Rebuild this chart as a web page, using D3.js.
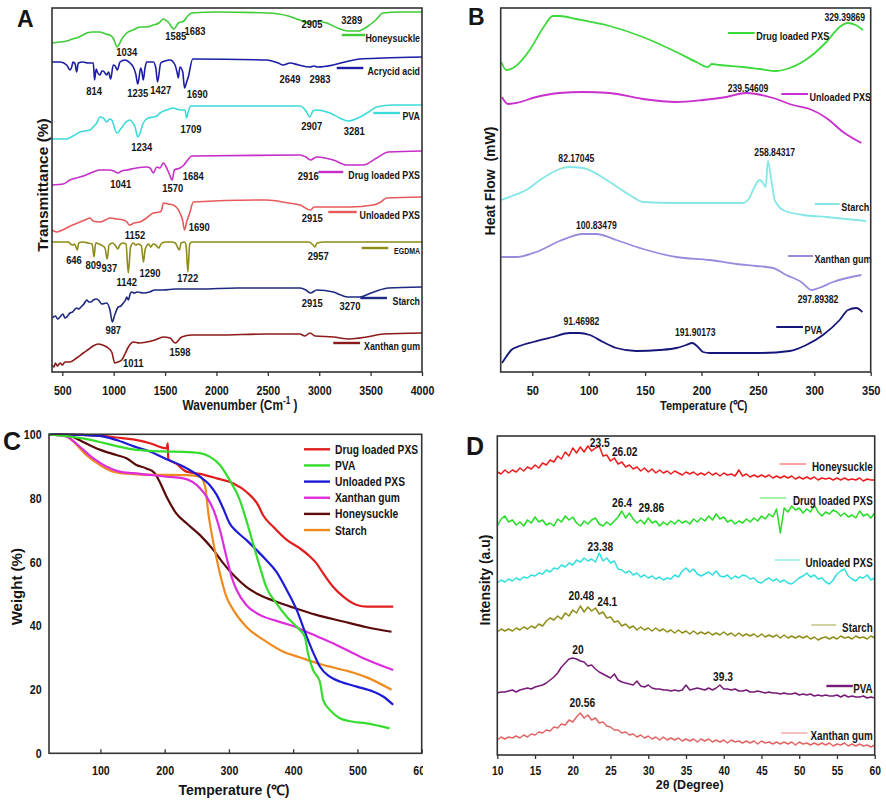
<!DOCTYPE html>
<html><head><meta charset="utf-8">
<script src="https://cdn.jsdelivr.net/npm/d3@7"></script>
<style>body{margin:0;background:#fff}svg{display:block}</style>
</head><body>
<script>
// ---------------- Panel A : FTIR (wavenumber, transmittance a.u. stacked) ----------------
const ftirTicks=[500,1000,1500,2000,2500,3000,3500,4000];
const ftirHoneysuckle=[[400,329],[470,330],[543,331],[600,333],[640,334],[700,337],[738,339],[800,340],[867,340],[920,338],[964,337],[1000,333],[1034,325],[1060,329],[1080,333],[1127,339],[1190,342],[1256,345],[1320,345],[1386,347],[1440,349],[1483,353],[1530,350],[1585,343],[1630,349],[1683,351],[1720,356],[1759,359],[2000,360],[2492,359],[2700,356],[2813,352],[2905,349],[2950,351],[3073,349],[3180,344],[3289,341],[3380,341],[3462,345],[3550,352],[3621,359],[3786,360],[4000,360]];
const ftirAcrylic=[[400,310],[480,310],[543,307],[575,302],[592,305],[604,310],[625,308],[640,300],[656,309],[700,310],[750,309],[802,309],[814,292],[830,303],[841,300],[867,297],[885,301],[899,301],[915,299],[932,297],[950,300],[971,293],[996,307],[1015,306],[1035,302],[1062,310],[1110,312],[1159,309],[1191,305],[1215,298],[1235,288],[1263,304],[1275,300],[1288,292],[1305,304],[1321,310],[1386,310],[1410,304],[1427,290],[1458,309],[1500,311],[1548,312],[1597,307],[1620,298],[1629,294],[1645,305],[1672,300],[1690,284],[1710,290],[1726,295],[1769,313],[2489,312],[2600,309],[2649,307],[2716,309],[2800,307],[2910,305],[2950,306],[2983,305],[3137,307],[3250,310],[3397,313],[3624,314],[4000,315]];
const ftirPVA=[[400,233],[470,233],[543,233],[604,236],[672,240],[770,242],[800,245],[835,249],[867,255],[899,254],[932,250],[960,253],[981,252],[1030,239],[1062,242],[1110,249],[1159,252],[1180,250],[1208,245],[1234,235],[1260,240],[1288,249],[1337,254],[1386,255],[1420,256],[1451,259],[1516,262],[1580,264],[1645,262],[1694,262],[1709,254],[1725,260],[1750,266],[2813,266],[2878,260],[2907,255],[2940,261],[2969,262],[3105,259],[3200,254],[3281,251],[3397,255],[3480,260],[3559,265],[3721,267],[4000,267]];
const ftirDrugLoaded=[[400,187],[510,188],[575,192],[640,194],[705,196],[800,200],[867,202],[964,202],[1000,201],[1041,199],[1080,201],[1127,202],[1224,204],[1321,205],[1354,204],[1386,199],[1419,205],[1451,204],[1483,209],[1516,204],[1545,197],[1570,192],[1590,202],[1645,204],[1684,207],[1720,212],[1759,216],[2813,217],[2870,215],[2916,212],[2975,215],[3137,212],[3267,207],[3429,207],[3559,214],[3672,220],[4000,221]];
const ftirUnloaded=[[400,142],[446,140],[500,142],[543,144],[600,147],[672,150],[720,152],[770,154],[800,151],[867,150],[920,152],[964,154],[1030,153],[1094,152],[1130,150],[1152,147],[1200,149],[1256,150],[1320,154],[1386,159],[1451,160],[1470,163],[1483,169],[1530,168],[1580,167],[1645,159],[1670,152],[1690,142],[1710,150],[1743,160],[1775,170],[2489,172],[2700,169],[2813,167],[2915,162],[2950,165],[3008,165],[3299,165],[3526,167],[3600,170],[3656,174],[4000,175]];
const ftirEGDMA=[[400,130],[560,130],[580,128],[600,127],[620,128],[646,122],[660,129],[700,130],[750,129],[790,128],[809,115],[825,129],[860,128],[895,126],[915,124],[937,113],[955,127],[990,129],[1020,126],[1040,123],[1060,127],[1090,129],[1120,128],[1142,99],[1165,125],[1190,129],[1215,127],[1240,128],[1270,126],[1290,110],[1305,122],[1320,126],[1340,128],[1360,125],[1385,128],[1410,127],[1440,124],[1460,128],[1500,130],[1560,130],[1600,129],[1625,124],[1640,122],[1655,129],[1690,130],[1705,126],[1722,100],[1740,128],[1760,130],[2900,130],[2940,127],[2957,125],[2980,129],[3050,130],[4000,130]];
const ftirStarch=[[400,54],[433,56],[455,53],[478,55],[507,58],[525,54],[543,55],[575,59],[600,60],[640,64],[660,63],[682,65],[710,68],[738,72],[760,70],[780,70],[800,72],[835,73],[860,71],[884,68],[932,69],[964,62],[987,50],[1010,57],[1045,65],[1070,66],[1094,69],[1115,72],[1127,75],[1143,72],[1160,78],[1175,80],[1200,79],[1230,80],[1288,79],[1350,80],[1400,82],[1483,82],[1600,83],[1840,83],[2200,84],[2813,84],[2870,82],[2915,79],[2977,82],[3137,80],[3210,77],[3280,75],[3397,75],[3480,78],[3559,81],[3672,84],[4000,85]];
const ftirXanthan=[[400,7],[420,5],[433,9],[452,6],[478,9],[500,7],[526,10],[575,10],[640,14],[705,19],[760,23],[800,26],[851,28],[890,27],[932,25],[981,20],[1011,9],[1040,10],[1078,12],[1110,18],[1143,25],[1191,30],[1250,29],[1321,30],[1400,32],[1483,35],[1548,34],[1598,29],[1662,35],[1759,37],[2000,37],[2500,38],[2813,38],[2860,36],[2910,39],[2960,36],[3137,35],[3299,33],[3462,35],[3624,38],[4000,39]];
const ftirPeakLabels=[["1034",1127,320],["1585",1604,336],["1683",1791,341],["2905",2930,348],["3289",3316,352],
 ["814",809,281],["1235",1234,279],["1427",1458,282],["1690",1814,278],["2649",2716,293],["2983",3008,293],
 ["1234",1273,225],["1709",1752,243],["2907",2927,246],["3281",3341,241],
 ["1041",1068,188],["1570",1574,184],["1684",1775,196],["2916",2894,196],
 ["1152",1208,137],["1690",1833,145],["2915",2933,154],
 ["646",614,112],["809",802,107],["937",958,104],["1142",1127,90],["1290",1354,99],["1722",1720,94],["2957",2991,116],
 ["987",996,42],["2915",2933,69],["3270",3300,66],
 ["1011",1191,9],["1598",1645,20]];

// ---------------- Panel B : DSC (temperature, heat flow a.u.) ----------------
const dscTicks=[50,100,150,200,250,300,350];
const dscDrugLoaded=[[22.5,310],[27,302],[34.4,305],[47.7,322],[59.5,344],[68.4,356],[74.3,356],[89,353],[118.6,346],[148,335],[177.7,320],[195.4,310],[205.8,305],[209,308],[216,307],[236.8,305],[251.6,303],[266.3,301],[278.2,304],[296,315],[310.7,330],[322.5,345],[329.4,349],[336.7,347],[343.2,342]];
const dscUnloaded=[[23,275],[28.5,268],[35.6,269],[53.6,275],[74.3,279],[95,280],[118.6,279],[148,273],[177.7,270],[201.3,272],[222,275],[239.5,279],[248.6,278],[263.4,274],[281.1,267],[296,263],[310.7,254],[325.5,240],[341.7,229]];
const dscStarch=[[22.5,172],[32,176],[44.7,182],[59.5,194],[74.3,203],[82.2,205],[95,204],[118.6,190],[136.4,177],[148.2,170],[177.7,169],[236.8,169],[241.3,172],[245.7,182],[251.6,192],[254,190],[257,185],[258.8,211],[261.9,192],[264.9,172],[266.3,169],[272.3,162],[290,157],[310.7,155],[346,151]];
const dscXanthan=[[22.5,115],[35.8,115],[53.6,120],[74.3,131],[95,138],[106.8,138],[124.5,132],[148.2,123],[177.7,115],[207.3,112],[230.9,108],[248.6,106],[263.4,104],[275.2,97],[288.5,90],[297.9,82],[304,84],[316.6,90],[341.7,97]];
const dscPVA=[[23.2,9],[26.7,15],[31.4,22],[38.8,26],[50.6,30],[68.4,35],[83.2,39],[91.5,39],[100.9,37],[112.7,30],[124.5,24],[142.2,21],[163,22],[177.7,24],[186.5,27],[191.9,29],[196.9,25],[201.3,20],[207.3,19],[251.6,19],[278.2,21],[292.9,27],[307.7,37],[322.5,52],[329.9,62],[337.3,64],[342.6,60]];
const dscPeakLabels=[["329.39869",327,355],["239.54609",241.2,284],["82.17045",89,214],["258.84317",264.9,220],["100.83479",106.8,147],["297.89382",303.3,73],["91.46982",93.5,51],["191.90173",194.5,40]];

// ---------------- Panel C : TGA (temperature, weight %) ----------------
const tgaXTicks=[100,200,300,400,500,600];
const tgaYTicks=[0,20,40,60,80,100];
const tgaDrugLoaded=[[20,100],[50,99.9],[73,99.8],[99,99.6],[125,99],[151,98.4],[177,97.2],[203,95.6],[205,97.2],[205.5,92.3],[218,90.8],[234,88.3],[255,87.6],[281,86.2],[307,84.6],[327,82],[345.5,77.8],[353,74.7],[369,71],[390,66.9],[410,64.3],[426,61.7],[436,59.6],[446.7,56.4],[462,52.2],[478,49.1],[499,46.5],[514.5,46],[555.6,46]];
const tgaPVA=[[20,100],[73,98.7],[99,97.6],[125,96.3],[151,95.3],[177,94.8],[203,94.6],[229,94.5],[255,94.1],[270,93],[286,90.4],[301,85.7],[317,79.4],[327,73.1],[337.5,65.8],[348,58.5],[358,52.2],[374,47],[390,42.8],[410,38.7],[418,36.6],[423,31.3],[431,26.1],[441.5,22.5],[446.7,16.7],[457,13.6],[472.6,11],[493,9.9],[514.5,9.4],[550,7.8]];
const tgaUnloaded=[[20,100],[73,99.8],[99,99.5],[125,98.2],[151,96.3],[177,94.6],[203,92.2],[229,89.9],[255,86.7],[270,84.1],[281,81],[291,76.8],[301,72.1],[312,69.5],[327,66.9],[343,63.7],[358,60.6],[374,56.9],[390,51.2],[405.6,44.9],[421,36.6],[434,30.3],[441.5,27.2],[457,24],[472.6,22.5],[499,20.9],[525,19.3],[540,17.8],[555.6,15.2]];
const tgaXanthan=[[20,100],[47,99.3],[68,96.1],[88.6,92.5],[109,89.9],[130,88.3],[151,87.8],[177,87.3],[203,86.7],[229,86.2],[255,83.1],[265,80.5],[276,76.3],[286,70],[296,61.7],[304,55.4],[312,51.2],[327,46.5],[348,43.4],[374,41.5],[400,39.9],[426,37.6],[462,34.5],[504,30.3],[555.6,26.1]];
const tgaHoneysuckle=[[20,100],[47,99.8],[73,97.6],[99,95.2],[125,93.5],[140.5,92.5],[156,90.4],[171.6,89.3],[184.6,87.8],[192,85.2],[203,80.4],[218,75.2],[234,72.1],[255,68.4],[276,63.7],[291,59.6],[307,55.9],[327,52.2],[348,49.6],[374,47.5],[400,45.7],[436,43.4],[478,41.3],[514.5,39.5],[553,38.1]];
const tgaStarch=[[20,100],[42,99.8],[63,96.7],[78,93.5],[99,90.4],[120,88.3],[151,87.5],[177,87.3],[203,87.3],[234,87.2],[255,86.7],[263,83.6],[268,75.2],[276,65.8],[286,56.4],[296,49.1],[307,44.9],[327,39.7],[358,35],[384,31.9],[410,30.1],[441.5,28],[488,25.6],[514.5,23.8],[553,19.9]];

// ---------------- Panel D : XRD (2theta, intensity a.u. stacked) ----------------
const xrdTicks=[10,15,20,25,30,35,40,45,50,55,60];
const xrdTheta=[10,10.5,11,11.5,12,12.5,13,13.5,14,14.5,15,15.5,16,16.5,17,17.5,18,18.5,19,19.5,20,20.5,21,21.5,22,22.5,23,23.5,24,24.5,25,25.5,26,26.5,27,27.5,28,28.5,29,29.5,30,30.5,31,31.5,32,32.5,33,33.5,34,34.5,35,35.5,36,36.5,37,37.5,38,38.5,39,39.5,40,40.5,41,41.5,42,42.5,43,43.5,44,44.5,45,45.5,46,46.5,47,47.5,48,48.5,49,49.5,50,50.5,51,51.5,52,52.5,53,53.5,54,54.5,55,55.5,56,56.5,57,57.5,58,58.5,59,59.5,60];
const xrdHoneysuckle=[283,281,285,282,285,283,287,284,288,286, 290,287,292,290,295,293,299,296,303,299, 307,302,308,303,309,304,307,309,299,300, 294,297,291,293,288,290,286,288,284,287, 283,286,282,285,282,284,281,284,282,280, 283,281,283,280,282,280,283,280,282,279, 282,280,281,279,285,279,281,278,280,278, 280,278,280,277,279,277,279,277,279,276, 278,276,278,276,278,275,277,276,277,275, 277,275,277,275,276,275,277,274,276,275, 275];
const xrdDrugLoaded=[229,236,239,233,235,230,233,229,235,232, 238,233,235,230,232,229,236,233,239,235, 238,232,229,234,231,235,237,231,229,233, 230,234,238,244,237,242,236,232,235,231, 237,232,234,229,233,230,234,231,235,232, 234,231,236,233,237,234,239,235,241,236, 238,233,235,231,234,232,236,233,237,234, 239,236,241,238,246,222,247,243,249,245, 247,242,246,243,250,243,239,243,241,245, 243,239,242,238,240,237,244,239,241,237, 242];
const xrdUnloaded=[172,175,173,176,174,177,175,178,177,180, 179,182,181,185,183,187,186,190,188,192, 190,195,193,197,194,196,193,202,194,197, 192,194,186,185,182,184,180,182,178,180, 177,179,176,178,175,177,176,180,178,184, 187,183,186,181,179,181,183,180,184,179, 178,180,176,179,177,180,179,176,177,173, 172,175,177,174,176,173,175,172,171,174, 177,179,182,178,180,176,177,173,171,175, 181,184,186,179,176,174,178,177,180,175, 177];
const xrdStarch=[123,126,124,126,124,127,125,128,126,129, 127,131,129,134,137,135,139,136,142,139, 145,142,149,143,148,144,147,141,143,137, 138,133,134,129,131,127,129,125,128,125, 127,124,127,124,126,123,125,122,125,122, 124,121,124,121,123,121,123,120,122,120, 123,120,122,119,122,119,121,119,121,118, 121,118,120,118,120,117,120,117,119,117, 119,117,119,116,118,115,117,118,116,118, 116,119,117,118,116,119,117,118,116,119, 117];
const xrdPVA=[62,63,63,64,65,63,65,66,67,66, 68,69,70,72,75,78,82,88,92,96, 97,96,94,93,89,90,86,83,81,79, 77,81,75,73,72,71,70,74,69,68, 70,67,66,66,65,65,64,65,64,65, 70,65,66,67,66,65,67,65,67,70, 66,66,65,66,64,64,65,63,63,64, 63,62,63,62,62,61,62,61,61,62, 60,61,60,61,59,60,59,60,59,59, 60,58,60,58,59,58,58,59,57,58, 57];
const xrdXanthan=[15,18,16,18,17,19,17,20,18,21, 20,23,22,25,24,28,27,31,30,35, 33,38,42,37,40,35,37,32,33,29, 28,25,25,22,23,20,21,18,20,17, 19,16,18,15,18,15,17,15,17,14, 16,14,16,13,16,14,16,13,15,13, 15,12,15,13,14,12,14,12,14,11, 14,12,13,11,13,11,13,11,13,10, 13,11,12,10,12,10,12,10,12,9, 11,10,12,9,11,9,11,9,10,8, 10];
const xrdPeakLabels=[["23.5",23.57,312],["26.02",26.88,303],["26.4",26.52,252],["29.86",30.4,247],["23.38",23.65,208],["20.48",21.13,159],["24.1",24.57,153],["20",20.7,105],["39.3",39.9,78],["20.56",21.26,52]];

// ============================== drawing ==============================
const REG="'Liberation Sans',Arial,sans-serif";
const NX=0.82; // horizontal squeeze that imitates the condensed face of the original
const INK="#151515";
const svg=d3.select("body").append("svg").attr("width",886).attr("height",800);

function frame(x,y){
  svg.append("rect").attr("x",x.range()[0]).attr("y",y.range()[1])
    .attr("width",x.range()[1]-x.range()[0]).attr("height",y.range()[0]-y.range()[1])
    .attr("fill","none").attr("stroke","#333").attr("stroke-width",1.6);
}
function bottomAxis(x,y,ticks,size,pad,inward){
  const g=svg.append("g").attr("transform",`translate(0,${y.range()[0]})`)
    .call(d3.axisBottom(x).tickValues(ticks).tickSize(inward?-4:4).tickSizeOuter(0).tickPadding(pad).tickFormat(d3.format("d")));
  g.select(".domain").remove();
  g.selectAll("line").attr("stroke","#333").attr("stroke-width",1.3);
  g.selectAll("text").attr("font-family",REG).attr("font-size",size).attr("font-weight","bold").attr("fill",INK)
    .attr("transform",`scale(${NX},1)`);
  return g;
}
function label(x,y,s,o){
  const f=o.wide?1:NX;
  const t=svg.append("text").attr("x",0).attr("y",0).text(s)
   .attr("font-family",REG).attr("font-size",o.size).attr("font-weight","bold")
   .attr("fill",o.fill||INK).attr("text-anchor",o.anchor||"middle")
   .attr("transform",`translate(${x},${y})${o.rotate?" rotate(-90)":""} scale(${f},1)`);
  return t;
}
function drawLine(data,x,y,color,w,curve){
  svg.append("path").datum(data).attr("fill","none").attr("stroke",color).attr("stroke-width",w)
    .attr("stroke-linejoin","round")
    .attr("d",d3.line().x(d=>x(d[0])).y(d=>y(d[1])).curve(curve||d3.curveMonotoneX));
}

// ---------- Panel A ----------
const aX=d3.scaleLinear().domain([400,4000]).range([52,422]);
const aY=d3.scaleLinear().domain([0,364]).range([372,8]);
const aSeries=[
  {name:"Honeysuckle",data:ftirHoneysuckle,color:"#3ecc36",leg:[3219,3446,337]},
  {name:"Acrycid acid",data:ftirAcrylic,color:"#1c1ca6",leg:[3170,3429,304]},
  {name:"PVA",data:ftirPVA,color:"#3ddada",leg:[3526,3786,259]},
  {name:"Drug loaded PXS",data:ftirDrugLoaded,color:"#c52ec8",leg:[2991,3234,200]},
  {name:"Unloaded PXS",data:ftirUnloaded,color:"#e65a5c",leg:[3088,3365,160]},
  {name:"EGDMA",data:ftirEGDMA,color:"#8d8c16",leg:[3413,3672,124],small:true},
  {name:"Starch",data:ftirStarch,color:"#1e2a82",leg:[3400,3659,74]},
  {name:"Xanthan gum",data:ftirXanthan,color:"#8c1a1a",leg:[3137,3397,29]}
];
aSeries.forEach(s=>{
  drawLine(s.data,aX,aY,s.color,1.6);
  svg.append("line").attr("x1",aX(s.leg[0])).attr("x2",aX(s.leg[1])).attr("y1",aY(s.leg[2])).attr("y2",aY(s.leg[2]))
    .attr("stroke",s.color).attr("stroke-width",2.4);
  label(aX.range()[1]-2,aY(s.leg[2])+(s.small?6:7),s.name,{size:s.small?8.5:10.8,anchor:"end"});
});
ftirPeakLabels.forEach(p=>label(aX(p[1]),aY(p[2])+4,p[0],{size:11.5}));
frame(aX,aY);
bottomAxis(aX,aY,ftirTicks,13,10);
{
  const t=label(240,410,"Wavenumber (Cm",{size:14.5});
  t.append("tspan").attr("dy",-6).attr("font-size",10).text("-1");
  t.append("tspan").attr("dy",6).text(" )");
}
label(48,185,"Transmittance (%)",{size:15.5,rotate:true,wide:true});
label(17,27,"A",{size:23,anchor:"start",wide:true});

// ---------- Panel B ----------
const bX=d3.scaleLinear().domain([22,350]).range([500.7,870.7]);
const bY=d3.scaleLinear().domain([0,364]).range([372,8]);
const bSeries=[
  {name:"Drug loaded PXS",data:dscDrugLoaded,color:"#3dd83a",leg:[223.5,247.2,339]},
  {name:"Unloaded PXS",data:dscUnloaded,color:"#c82fcc",leg:[270.8,294.4,278]},
  {name:"Starch",data:dscStarch,color:"#86e6e6",leg:[300.4,322.5,168]},
  {name:"Xanthan gum",data:dscXanthan,color:"#9a8ade",leg:[276.7,298.9,116]},
  {name:"PVA",data:dscPVA,color:"#15157a",leg:[266.3,290,45]}
];
bSeries.forEach(s=>{
  drawLine(s.data,bX,bY,s.color,1.8);
  svg.append("line").attr("x1",bX(s.leg[0])).attr("x2",bX(s.leg[1])).attr("y1",bY(s.leg[2])).attr("y2",bY(s.leg[2]))
    .attr("stroke",s.color).attr("stroke-width",2);
  label(bX(s.leg[1])+1.5,bY(s.leg[2])+6.5,s.name,{size:11,anchor:"start"});
});
dscPeakLabels.forEach(p=>label(bX(p[1]),bY(p[2])+3.5,p[0],{size:10.5}));
frame(bX,bY);
bottomAxis(bX,bY,dscTicks,13.5,9.4);
label(703.7,410,"Temperature (℃)",{size:13.5});
label(495,181,"Heat Flow  (mW)",{size:14,rotate:true,wide:true}).style("white-space","pre");
label(468,25,"B",{size:23,anchor:"start",wide:true});

// ---------- Panel C ----------
const cX=d3.scaleLinear().domain([20,600]).range([49,421.7]);
const cY=d3.scaleLinear().domain([0,100]).range([753.3,434.3]);
const cSeries=[
  {name:"Drug loaded PXS",data:tgaDrugLoaded,color:"#e11d1d"},
  {name:"PVA",data:tgaPVA,color:"#35dc2e"},
  {name:"Unloaded PXS",data:tgaUnloaded,color:"#1c1cd8"},
  {name:"Xanthan gum",data:tgaXanthan,color:"#dd2ddd"},
  {name:"Honeysuckle",data:tgaHoneysuckle,color:"#5a0a0a"},
  {name:"Starch",data:tgaStarch,color:"#f08a1e"}
];
[4,5,3,0,2,1].forEach(i=>drawLine(cSeries[i].data,cX,cY,cSeries[i].color,2.2));
cSeries.forEach((s,i)=>{
  const yy=449.3+i*16.15;
  svg.append("line").attr("x1",304).attr("x2",330).attr("y1",yy).attr("y2",yy).attr("stroke",s.color).attr("stroke-width",2.4);
  label(335,yy+4.5,s.name,{size:12.5,anchor:"start"});
});
frame(cX,cY);
svg.append("clipPath").attr("id","clipC").append("rect").attr("x",0).attr("y",-10).attr("width",423).attr("height",50);
bottomAxis(cX,cY,tgaXTicks,13,12.5,true).attr("clip-path","url(#clipC)");
{
  const g=svg.append("g").attr("transform",`translate(${cX.range()[0]},0)`)
    .call(d3.axisLeft(cY).tickValues(tgaYTicks).tickSize(0).tickSizeOuter(0).tickPadding(9));
  g.select(".domain").remove();
  g.selectAll("text").attr("font-family",REG).attr("font-size",13).attr("font-weight","bold").attr("fill",INK)
    .attr("transform",`scale(${NX},1)`);
}
label(234,795,"Temperature (℃)",{size:14,wide:true});
label(22,586.7,"Weight (%)",{size:15,rotate:true,wide:true});
label(3,450,"C",{size:25,anchor:"start",wide:true});

// ---------- Panel D ----------
const dX=d3.scaleLinear().domain([10,60]).range([497.3,874.7]);
const dY=d3.scaleLinear().domain([0,319]).range([755,436]);
const dSeries=[
  {name:"Honeysuckle",vals:xrdHoneysuckle,color:"#ee1c1c",leg:[47.4,50.9,291]},
  {name:"Drug loaded PXS",vals:xrdDrugLoaded,color:"#25dc25",leg:[44.8,48.3,257]},
  {name:"Unloaded PXS",vals:xrdUnloaded,color:"#2fdede",leg:[46.75,50.06,195]},
  {name:"Starch",vals:xrdStarch,color:"#8e8d18",leg:[51.6,54.9,130]},
  {name:"PVA",vals:xrdPVA,color:"#771a77",leg:[53.6,57.1,69],bold:true},
  {name:"Xanthan gum",vals:xrdXanthan,color:"#e26464",leg:[47.6,51.1,22]}
];
dSeries.forEach(s=>{
  drawLine(xrdTheta.map((t,i)=>[t,s.vals[i]]),dX,dY,s.color,1.5,d3.curveLinear);
  svg.append("line").attr("x1",dX(s.leg[0])).attr("x2",dX(s.leg[1])).attr("y1",dY(s.leg[2])).attr("y2",dY(s.leg[2]))
    .attr("stroke",s.color).attr("stroke-width",s.bold?2.4:1).attr("opacity",s.bold?1:0.8);
  label(dX.range()[1]-2,dY(s.leg[2])+6.5,s.name,{size:12,anchor:"end"});
});
xrdPeakLabels.forEach(p=>label(dX(p[1]),dY(p[2])+4,p[0],{size:12.5}));
frame(dX,dY);
bottomAxis(dX,dY,xrdTicks,12.5,7.6);
label(689.7,789,"2θ (Degree)",{size:12.5,wide:true});
label(490,580,"Intensity (a.u)",{size:14,rotate:true,wide:true});
label(466,455,"D",{size:25,anchor:"start",wide:true});
</script>
</body></html>
